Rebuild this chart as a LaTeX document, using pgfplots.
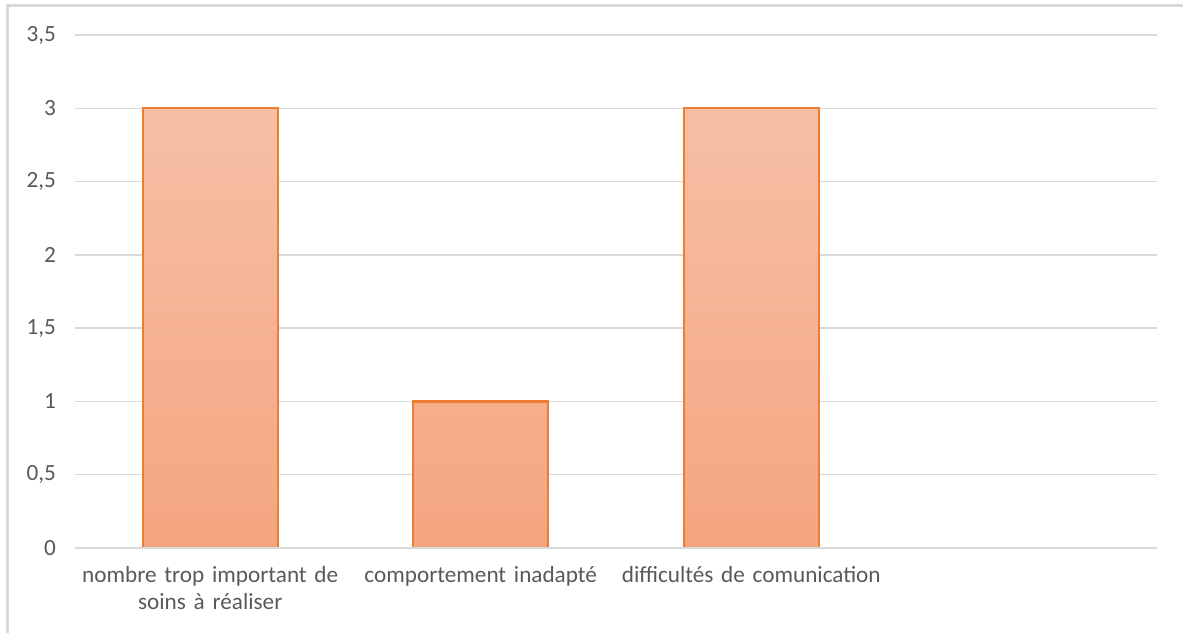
\documentclass[border=0pt]{standalone}
\usepackage{pgfplots}
\pgfplotsset{compat=1.18}
\usepackage{fontspec}
\setmainfont{Carlito}
\definecolor{gridgray}{HTML}{D9D9D9}
\definecolor{framegray}{HTML}{D9D9D9}
\definecolor{txtgray}{HTML}{595959}
\definecolor{barline}{HTML}{ED7D31}
\definecolor{bartop}{HTML}{F6BFA6}
\definecolor{barbot}{HTML}{F5A580}
\begin{document}
\begin{tikzpicture}
\useasboundingbox (0pt,0pt) rectangle (591.5pt,316.5pt);
\draw[framegray,line width=1.2pt] (3.75pt,0pt) -- (3.75pt,313.75pt) -- (591.5pt,313.75pt);
\begin{axis}[
  at={(37.5pt,42.5pt)}, anchor=south west,
  scale only axis,
  width=541pt, height=256.5pt,
  xmin=-0.5, xmax=3.5,
  ymin=0, ymax=3.5,
  ytick={0,0.5,...,3.5},
  /pgf/number format/use comma,
  /pgf/number format/fixed,
  /pgf/number format/precision=1,
  /pgf/number format/assume math mode=true,
  xtick={0,1,2},
  xticklabels={{nombre trop important de\\soins à réaliser},{comportement inadapté},{difficultés de comunication}},
  xticklabel style={align=center, text width=150pt, font=\fontsize{11.6}{13.9}\selectfont, text=txtgray, yshift=-5.5pt},
  yticklabel style={font=\fontsize{11.6}{13.9}\selectfont, text=txtgray, xshift=-6pt},
  major tick length=0pt,
  axis line style={draw=none},
  ymajorgrids, grid style={gridgray, line width=0.7pt},
  ybar, bar width=0.5,
  clip=false,
]
\addplot[draw=barline, line width=1.1pt, top color=bartop, bottom color=barbot] coordinates {(0,3) (1,1) (2,3)};
\draw[gridgray, line width=0.9pt] (axis cs:-0.5,0) -- (axis cs:3.5,0);
\end{axis}
\end{tikzpicture}
\end{document}
